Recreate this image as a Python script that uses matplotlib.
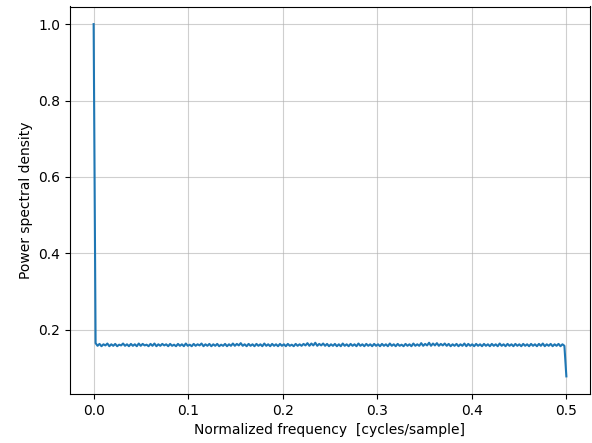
import numpy as np
import matplotlib.pyplot as plt

# power spectral density: spike at f=0, flat noise floor, drop at Nyquist
peak = 1.0
floor = [
    .165, .158, .163, .157, .162, .159, .164, .157, .162, .158, .163, .157, .161, .159, .164, .158, .162, .157, .163, .158,
    .162, .157, .164, .158, .163, .159, .161, .157, .163, .158, .164, .157, .162, .158, .163, .159, .162, .157, .163, .158,
    .161, .157, .163, .158, .162, .157, .164, .158, .161, .157, .163, .158, .162, .159, .164, .157, .162, .158, .163, .157,
    .162, .158, .163, .157, .161, .158, .163, .157, .162, .158, .164, .158, .163, .159, .165, .158, .162, .157, .163, .158,
    .162, .157, .163, .158, .162, .157, .164, .158, .162, .157, .163, .158, .162, .157, .163, .158, .162, .157, .163, .158,
    .161, .157, .163, .158, .162, .158, .163, .159, .165, .158, .164, .159, .166, .158, .163, .159, .164, .158, .163, .157,
    .162, .158, .163, .157, .162, .157, .164, .158, .162, .157, .163, .158, .162, .157, .164, .158, .162, .157, .163, .158,
    .162, .157, .163, .158, .162, .157, .163, .158, .162, .157, .164, .158, .162, .157, .163, .158, .161, .157, .163, .158,
    .162, .157, .164, .158, .162, .158, .165, .158, .163, .159, .166, .158, .164, .159, .165, .158, .163, .159, .164, .158,
    .163, .157, .162, .158, .163, .157, .162, .158, .164, .157, .163, .158, .162, .157, .163, .158, .162, .157, .163, .158,
    .162, .157, .163, .158, .162, .157, .164, .158, .162, .157, .163, .158, .162, .157, .163, .158, .162, .157, .163, .158,
    .162, .157, .163, .158, .162, .157, .163, .158, .164, .157, .162, .158, .163, .157, .162, .158, .163, .157, .162, .158,
]
nyquist_value = 0.078

psd = np.array([peak] + floor + [nyquist_value])
freqs = np.linspace(0, 0.5, len(psd))

fig = plt.figure(figsize=(5.92, 4.43), dpi=100)
ax = fig.add_axes([70 / 592, 49 / 443, 520 / 592, 387.5 / 443])
ax.plot(freqs, psd)
ax.set_xlabel("Normalized frequency  [cycles/sample]")
ax.set_ylabel("Power spectral density")
ax.grid(True, alpha=0.6)
fig.savefig("out.png", dpi=100)
